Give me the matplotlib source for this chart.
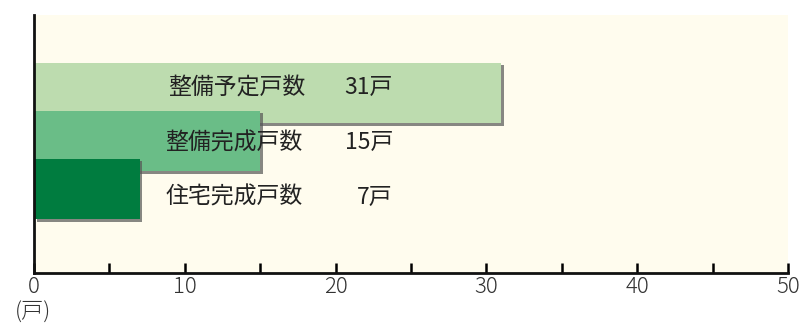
import matplotlib
matplotlib.use("Agg")
import matplotlib.pyplot as plt
import matplotlib.patheffects as pe

plt.rcParams['font.family'] = ['Noto Sans CJK JP', 'DejaVu Sans']

categories = ["整備予定戸数", "整備完成戸数", "住宅完成戸数"]
values = [31, 15, 7]
unit = "戸"
colors = ["#bddcaf", "#6abd87", "#007c3f"]
xticks_major = [0, 10, 20, 30, 40, 50]
xticks_minor = [5, 15, 25, 35, 45]

fig = plt.figure(figsize=(8.11, 3.25), dpi=100)
ax = fig.add_axes([34 / 811, 52 / 325, 754 / 811, 258 / 325])
ax.set_facecolor("#fffcee")

ypos = [2, 1, 0]
shadow = [pe.SimplePatchShadow(offset=(1.8, -1.5), shadow_rgbFace="#555555", alpha=0.7), pe.Normal()]
for y, v, c in zip(ypos, values, colors):
    ax.barh(y, v, height=1.27, color=c, edgecolor="none", path_effects=shadow, zorder=2)

# labels sit a little off the bar centres in the original
label_y = [2.125, 0.96, -0.17]
label_x = [8.9, 8.7, 8.7]
for lx, ly, name, v in zip(label_x, label_y, categories, values):
    ax.text(lx, ly, name, fontsize=16.5, ha="left", va="center", color="#222222", zorder=3)
    ax.text(23.8, ly, f"{v}{unit}", fontsize=16.5, ha="right", va="center", color="#222222", zorder=3)

ax.set_xlim(0, 50)
ax.set_ylim(-1.75, 3.625)
ax.set_xticks(xticks_major)
ax.set_xticks(xticks_minor, minor=True)
ax.set_xticklabels([str(t) for t in xticks_major], fontsize=16, fontweight="light", color="#333333")
ax.tick_params(axis="x", which="both", direction="in", length=7, width=1.8, pad=2)
ax.set_yticks([])
for s in ("top", "right"):
    ax.spines[s].set_visible(False)
for s in ("left", "bottom"):
    ax.spines[s].set_linewidth(2)
    ax.spines[s].set_color("#111111")

fig.text(33 / 811, 1 - 313 / 325, f"({unit})", fontsize=16, fontweight="light", ha="center", va="center", color="#333333")

fig.savefig("out.png", dpi=100, facecolor="white")
